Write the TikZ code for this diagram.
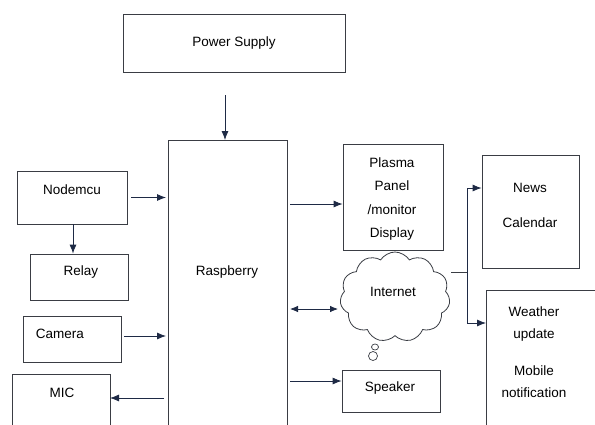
\documentclass[tikz,border=0pt]{standalone}
\usepackage{fontspec}
\setmainfont{Liberation Sans}
\usetikzlibrary{arrows.meta,shapes.symbols}
\definecolor{ln}{HTML}{3A3D44}
\definecolor{ar}{HTML}{1E2A45}
\begin{document}
\begin{tikzpicture}[x=1pt,y=-1pt,
  box/.style={draw=ln,line width=0.8pt,inner sep=0pt,align=center,font=\fontsize{13.5}{16}\selectfont},
  arr/.style={draw=ln,line width=0.8pt,-{Latex[length=9pt,width=7pt]},color=ar},
  darr/.style={draw=ln,line width=0.8pt,{Latex[length=8pt,width=6.5pt]}-{Latex[length=8pt,width=6.5pt]},color=ar},
  lbl/.style={font=\fontsize{13.5}{16}\selectfont,align=center}]
\useasboundingbox (0,0) rectangle (595,424);
\fill[white] (0,0) rectangle (595,424);
% boxes
\node[box,minimum width=222pt,minimum height=58pt] (ps) at (234,43) {Power Supply};
\draw[draw=ln,line width=0.8pt] (168,140) rectangle (287,430);
\coordinate (rasptop) at (225,140);
\node[lbl] (rasp) at (227,272) {Raspberry};
\node[box,minimum width=110pt,minimum height=53pt] (nodemcu) at (72,197.5) {};
\node[lbl] (nodemcuT) at (72,190) {Nodemcu};
\node[box,minimum width=98pt,minimum height=46pt] (relay) at (79,277) {};
\node[lbl] (relayT) at (81,272) {Relay};
\node[box,minimum width=98pt,minimum height=46pt] (camera) at (72,339) {};
\node[lbl] (cameraT) at (60,334) {Camera};
\draw[draw=ln,line width=0.8pt] (12,374) rectangle (110,430);
\node[lbl] (mic) at (62,393) {MIC};
\node[box,minimum width=100pt,minimum height=106pt] (plasma) at (393,197) {};
\node[lbl,font=\fontsize{13.5}{23.5}\selectfont] (plasmaT) at (392,199) {Plasma\\Panel\\/monitor\\Display};
\node[box,minimum width=98pt,minimum height=42pt] (speaker) at (391,391) {};
\node[lbl] (speakerT) at (390,388) {Speaker};
\node[box,minimum width=97pt,minimum height=113pt] (news) at (530.5,211.5) {};
\node[lbl,font=\fontsize{13.5}{35}\selectfont] (newsT) at (530,205) {News\\Calendar};
\draw[draw=ln,line width=0.8pt] (486,290) rectangle (600,430);
\node[lbl] (weather) at (534,324) {Weather\\[6pt]update};
\node[lbl] (mobile) at (534,382) {Mobile\\[6pt]notification};
% cloud
\node[cloud,draw=ln,line width=0.8pt,cloud puffs=11,cloud puff arc=115,aspect=1.2,minimum width=110pt,minimum height=90pt,inner sep=0pt] (cloud) at (395,297) {};
\node[lbl] (internet) at (393,292) {Internet};
\draw[ln,line width=0.7pt] (375,347) circle[x radius=3.5pt,y radius=3pt];
\draw[ln,line width=0.7pt] (373,356) circle[radius=4.5pt];
% connectors
\draw[arr] (225,95) -- (rasptop);
\draw[arr] ([xshift=4pt]nodemcu.east) -- (166,197.5);
\draw[arr] (73,224) -- (relay.north -| 73,0);
\draw[arr] ([xshift=3pt,yshift=3pt]camera.east) -- (166,336);
\draw[arr] (164,398) -- (110,398);
\draw[arr] (290,204) -- (plasma.west |- 0,204);
\draw[darr] (290,309) -- (338,309);
\draw[arr] (290,381) -- (speaker.west |- 0,381);
\coordinate (jn) at (467,272);
\draw[draw=ln,line width=0.8pt] (451,272) -- (jn);
\draw[arr] (jn) -- (467,188) -- (news.west |- 0,188);
\draw[arr] (jn) -- (467,323) -- (486,323);
\end{tikzpicture}
\end{document}
